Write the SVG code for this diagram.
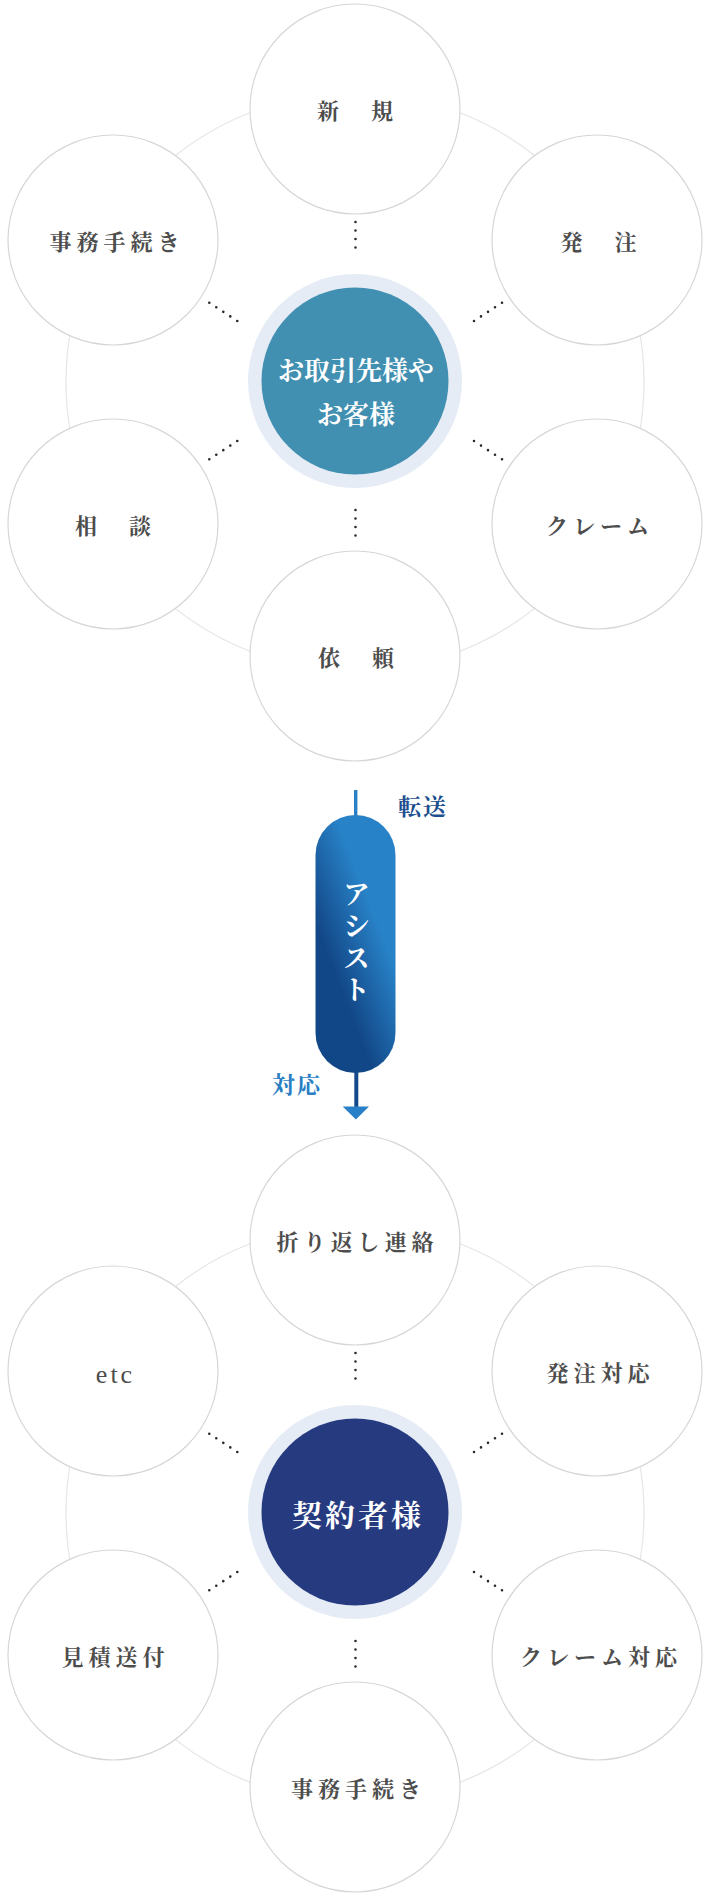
<svg xmlns="http://www.w3.org/2000/svg" width="706" height="1898" viewBox="0 0 706 1898">
<style>
.bg{fill:#ffffff}
.ring{fill:none;stroke:#e6e6e6;stroke-width:1.2}
.sat{fill:#ffffff;stroke:#d6d6d6;stroke-width:1.2}
.dots{stroke:#2a2a2a;stroke-width:2.6;stroke-linecap:round;fill:none}
.halo{fill:#e5ecf5}
.lbl{font-family:"Noto Serif CJK JP","Noto Sans CJK JP",serif;font-size:22px;font-weight:700;fill:#4d4d4d;letter-spacing:5px;text-anchor:middle;dominant-baseline:central}
.ctr{font-family:"Noto Serif CJK JP","Noto Sans CJK JP",serif;font-weight:700;fill:#ffffff;text-anchor:middle;dominant-baseline:central}
.etc{font-family:"Liberation Serif",serif;font-size:26px;font-weight:400;fill:#4d4d4d;letter-spacing:3px;text-anchor:middle}
.side{font-family:"Noto Serif CJK JP","Noto Sans CJK JP",serif;font-size:23px;font-weight:700;letter-spacing:2px;text-anchor:middle;dominant-baseline:central}
</style>
<defs>
<linearGradient id="pillGrad" x1="0.65" y1="0.32" x2="0.35" y2="0.7">
<stop offset="0" stop-color="#2882c7"/>
<stop offset="1" stop-color="#124787"/>
</linearGradient>
</defs>
<rect class="bg" x="0" y="0" width="706" height="1898"/>

<!-- top cluster -->
<g id="top-cluster">
<circle class="ring" cx="355" cy="382" r="289"/>
<g id="conn-top">
<line class="dots" x1="355.5" y1="222" x2="355.5" y2="256" stroke-dasharray="0 8.5"/>
<line class="dots" x1="355.5" y1="510" x2="355.5" y2="544" stroke-dasharray="0 8.5"/>
<line class="dots" x1="209.3" y1="302.7" x2="237.3" y2="321" stroke-dasharray="0 8.36"/>
<line class="dots" x1="502" y1="302.7" x2="474" y2="321" stroke-dasharray="0 8.36"/>
<line class="dots" x1="209.3" y1="459.3" x2="237.3" y2="441" stroke-dasharray="0 8.36"/>
<line class="dots" x1="502" y1="459.3" x2="474" y2="441" stroke-dasharray="0 8.36"/>
</g>
<g id="n-shinki"><circle class="sat" cx="355" cy="109" r="105"/><text class="lbl" x="357.5" y="109">新　規</text></g>
<g id="n-jimu1"><circle class="sat" cx="113" cy="240" r="105"/><text class="lbl" x="117" y="240">事務手続き</text></g>
<g id="n-hacchu"><circle class="sat" cx="597" cy="240" r="105"/><text class="lbl" x="601" y="240">発　注</text></g>
<g id="n-soudan"><circle class="sat" cx="113" cy="524" r="105"/><text class="lbl" x="115.5" y="524">相　談</text></g>
<g id="n-claim"><circle class="sat" cx="597" cy="524" r="105"/><text class="lbl" x="600" y="524">クレーム</text></g>
<g id="n-irai"><circle class="sat" cx="355" cy="656" r="105"/><text class="lbl" x="358.5" y="656">依　頼</text></g>
<g id="n-customer">
<circle class="halo" cx="355" cy="381" r="107"/>
<circle cx="355" cy="381" r="93.5" fill="#418fb1"/>
<text class="ctr" x="356" y="368" font-size="26">お取引先様や</text>
<text class="ctr" x="356" y="412" font-size="26">お客様</text>
</g>
</g>

<!-- assist -->
<g id="assist-connectors">
<line x1="355.7" y1="790" x2="355.7" y2="818" stroke="#2a7fc4" stroke-width="3.4"/>
<line x1="356.3" y1="1068" x2="356.3" y2="1108" stroke="#154a8a" stroke-width="4"/>
<polygon points="342.7,1106.5 369,1106.5 355.9,1119.5" fill="#2a80c8"/>
</g>
<g id="n-assist">
<rect x="315.5" y="815" width="80" height="258" rx="40" ry="40" fill="url(#pillGrad)"/>
<text class="ctr" x="356.5" y="944" font-size="27" letter-spacing="5" writing-mode="vertical-rl">アシスト</text>
</g>
<g id="lbl-tensou"><text class="side" x="423" y="805" fill="#1d4f8f">転送</text></g>
<g id="lbl-taiou"><text class="side" x="297" y="1083" fill="#2a7fc4">対応</text></g>

<!-- bottom cluster -->
<g id="bottom-cluster" transform="translate(0,1131)">
<circle class="ring" cx="355" cy="382" r="289"/>
<g id="conn-bottom">
<line class="dots" x1="355.5" y1="222" x2="355.5" y2="256" stroke-dasharray="0 8.5"/>
<line class="dots" x1="355.5" y1="510" x2="355.5" y2="544" stroke-dasharray="0 8.5"/>
<line class="dots" x1="209.3" y1="302.7" x2="237.3" y2="321" stroke-dasharray="0 8.36"/>
<line class="dots" x1="502" y1="302.7" x2="474" y2="321" stroke-dasharray="0 8.36"/>
<line class="dots" x1="209.3" y1="459.3" x2="237.3" y2="441" stroke-dasharray="0 8.36"/>
<line class="dots" x1="502" y1="459.3" x2="474" y2="441" stroke-dasharray="0 8.36"/>
</g>
<g id="n-orikaeshi"><circle class="sat" cx="355" cy="109" r="105"/><text class="lbl" x="357.5" y="109">折り返し連絡</text></g>
<g id="n-etc"><circle class="sat" cx="113" cy="240" r="105"/><text class="etc" x="115.5" y="252">etc</text></g>
<g id="n-hacchutaiou"><circle class="sat" cx="597" cy="240" r="105"/><text class="lbl" x="600.5" y="240">発注対応</text></g>
<g id="n-mitsumori"><circle class="sat" cx="113" cy="524" r="105"/><text class="lbl" x="115.5" y="524">見積送付</text></g>
<g id="n-claimtaiou"><circle class="sat" cx="597" cy="524" r="105"/><text class="lbl" x="601" y="524">クレーム対応</text></g>
<g id="n-jimu2"><circle class="sat" cx="355" cy="656" r="105"/><text class="lbl" x="358.5" y="656">事務手続き</text></g>
<g id="n-keiyaku">
<circle class="halo" cx="355" cy="381" r="107"/>
<circle cx="355" cy="381" r="93.5" fill="#263a80"/>
<text class="ctr" x="358" y="382" font-size="30" letter-spacing="3">契約者様</text>
</g>
</g>
</svg>
